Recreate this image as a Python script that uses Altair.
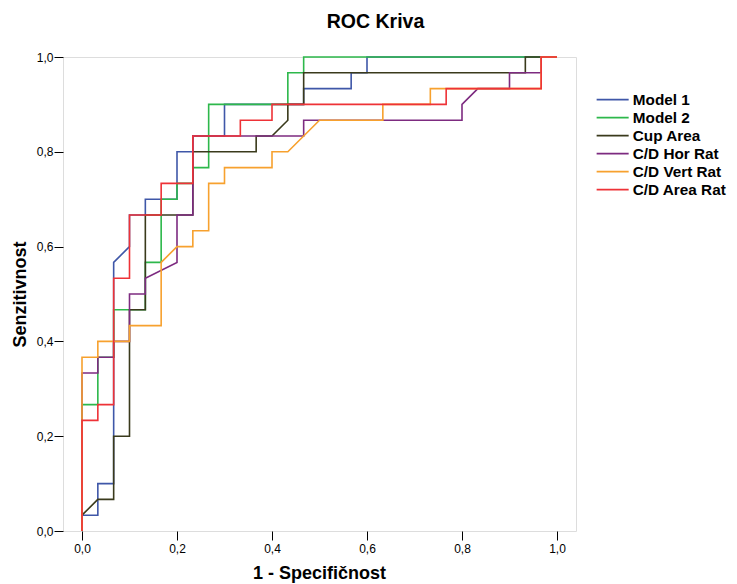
import altair as alt
import pandas as pd

# 30 negative and 30 positive cases: step counts
N_NEG = 30
N_POS = 30

series_names = ["Model 1", "Model 2", "Cup Area", "C/D Hor Rat", "C/D Vert Rat", "C/D Area Rat"]
series_colors = ["#3F57A8", "#2DB84B", "#3A3A1C", "#7D2B80", "#F7A12E", "#EE3237"]

model1_fp = [0, 0, 1, 1, 2, 2, 3, 3, 4, 4, 6, 6, 7, 7, 9, 9, 14, 14, 17, 17, 18, 18, 30]
model1_tp = [0, 1, 1, 3, 3, 17, 18, 20, 20, 21, 21, 24, 24, 25, 25, 27, 27, 28, 28, 29, 29, 30, 30]

model2_fp = [0, 0, 1, 1, 1, 2, 2, 4, 4, 5, 5, 6, 6, 7, 7, 8, 8, 13, 13, 14, 14, 30]
model2_tp = [0, 8, 8, 10, 11, 11, 14, 14, 17, 17, 21, 21, 22, 22, 23, 23, 27, 27, 29, 29, 30, 30]

cup_fp = [0, 0, 1, 2, 2, 3, 3, 4, 4, 7, 7, 11, 11, 12, 13, 13, 14, 14, 28, 28, 30]
cup_tp = [0, 1, 2, 2, 6, 6, 14, 14, 20, 20, 24, 24, 25, 25, 26, 27, 27, 29, 29, 30, 30]

hor_fp = [0, 0, 1, 1, 2, 2, 3, 3, 4, 4, 6, 6, 7, 7, 14, 14, 24, 24, 25, 27, 27, 29, 29, 30]
hor_tp = [0, 10, 10, 11, 11, 12, 12, 15, 15, 16, 17, 20, 20, 25, 25, 26, 26, 27, 28, 28, 29, 29, 30, 30]

vert_fp = [0, 0, 1, 1, 3, 3, 5, 5, 6, 7, 7, 8, 8, 9, 9, 12, 12, 13, 15, 19, 19, 22, 22, 29, 29, 30]
vert_tp = [0, 11, 11, 12, 12, 13, 13, 17, 18, 18, 19, 19, 22, 22, 23, 23, 24, 24, 26, 26, 27, 27, 28, 28, 30, 30]

area_fp = [0, 0, 1, 1, 2, 2, 3, 3, 5, 5, 7, 7, 10, 10, 12, 12, 23, 23, 29, 29, 30]
area_tp = [0, 7, 7, 8, 8, 16, 16, 20, 20, 22, 22, 25, 25, 26, 26, 27, 27, 28, 28, 30, 30]

tick_values = [0.0, 0.2, 0.4, 0.6, 0.8, 1.0]

all_fp = [model1_fp, model2_fp, cup_fp, hor_fp, vert_fp, area_fp]
all_tp = [model1_tp, model2_tp, cup_tp, hor_tp, vert_tp, area_tp]

rows = []
for name, fp, tp in zip(series_names, all_fp, all_tp):
    for k, (a, b) in enumerate(zip(fp, tp)):
        rows.append({"series": name, "fpr": a / N_NEG, "tpr": b / N_POS, "idx": k})
df = pd.DataFrame(rows)

FONT = "Liberation Sans"
label_expr = "replace(format(datum.value, '.1f'), '.', ',')"

chart = alt.Chart(df).mark_line(strokeWidth=1.6).encode(
    x=alt.X(
        "fpr:Q",
        scale=alt.Scale(domain=[-0.04, 1.04], nice=False, zero=False),
        axis=alt.Axis(
            values=tick_values, labelExpr=label_expr, grid=False, domain=False,
            tickSize=9, tickColor="#000", labelPadding=3, labelFontSize=12,
            labelFont=FONT, labelColor="#000",
            title="1 - Specifičnost", titleFont=FONT, titleFontSize=18,
            titleFontWeight="bold", titleColor="#000",
            titleX=256, titleY=47, titleBaseline="alphabetic", titleAlign="center",
        ),
    ),
    y=alt.Y(
        "tpr:Q",
        scale=alt.Scale(domain=[0, 1], nice=False),
        axis=alt.Axis(
            values=tick_values, labelExpr=label_expr, grid=False, domain=False,
            tickSize=9, tickColor="#000", labelPadding=1, labelFontSize=12,
            labelFont=FONT, labelColor="#000",
            title="Senzitivnost", titleFont=FONT, titleFontSize=18,
            titleFontWeight="bold", titleColor="#000",
            titleX=-43, titleY=237, titleAngle=270, titleBaseline="middle", titleAlign="center",
        ),
    ),
    color=alt.Color(
        "series:N",
        scale=alt.Scale(domain=series_names, range=series_colors),
        sort=series_names,
        legend=alt.Legend(
            title=None, orient="none", legendX=542, legendY=35,
            symbolType="M-3,0H3", symbolSize=114, symbolStrokeWidth=1.6,
            labelFont=FONT, labelFontSize=15.3, labelFontWeight="bold", labelColor="#000",
            labelOffset=12.5, rowPadding=2, padding=0,
        ),
    ),
    order=alt.Order("idx:Q"),
).properties(
    width=513,
    height=474,
    padding={"left": 55, "top": 49, "right": 153, "bottom": 53},
    autosize=alt.AutoSizeParams(type="none"),
    title=alt.TitleParams(
        "ROC Kriva", font=FONT, fontSize=19.5, fontWeight="bold", color="#000",
        anchor="middle", dx=56, offset=19,
    ),
).configure_view(
    fill="#F0F0F0", stroke="#000", strokeWidth=1.2
).configure(background="white")

chart.save("out.html", embed_options={"renderer": "svg", "actions": False})
